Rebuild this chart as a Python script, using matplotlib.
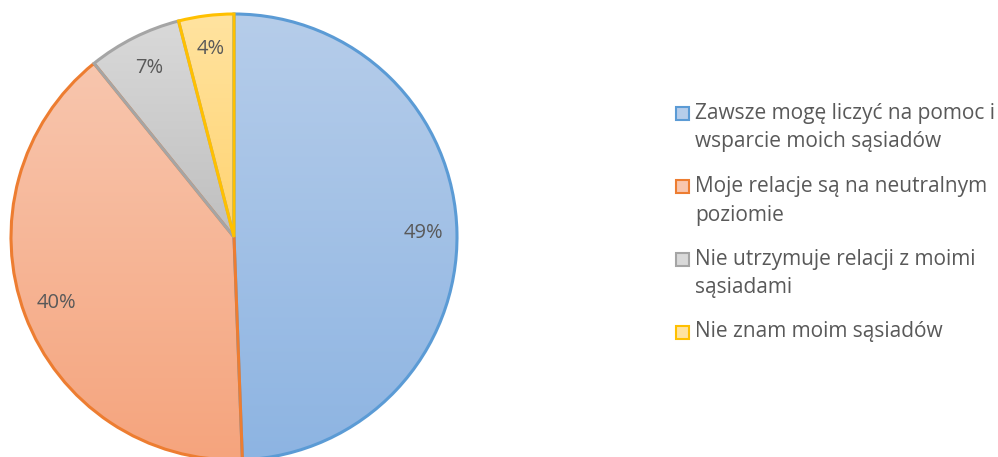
import matplotlib
matplotlib.use("Agg")
from matplotlib import pyplot as plt
from matplotlib.patches import Rectangle
import matplotlib.colors as mcolors
import numpy as np

labels = ["Zawsze mogę liczyć na pomoc i\nwsparcie moich sąsiadów",
          "Moje relacje są na neutralnym\npoziomie",
          "Nie utrzymuje relacji z moimi\nsąsiadami",
          "Nie znam moim sąsiadów"]
values = [49.4, 39.8, 6.8, 4.0]

# (light top, dark bottom, edge)
light = ["#b6cdea", "#f8c6ae", "#d9d9d9", "#ffe3a0"]
dark = ["#8db4e2", "#f5a47d", "#bfbfbf", "#ffd370"]
edges = ["#5b9bd5", "#ed7d31", "#a5a5a5", "#ffc000"]
text_color = "#595959"

plt.rcParams['font.family'] = ['Open Sans', 'DejaVu Sans']

W, H = 998, 457
fig = plt.figure(figsize=(W / 100, H / 100), dpi=100)
ax = fig.add_axes([11 / W, -3 / H, 446 / W, 446 / H])

wedges, texts, autotexts = ax.pie(values, startangle=90, counterclock=False,
                                  autopct=lambda p: "%.0f%%" % p, pctdistance=0.85,
                                  wedgeprops=dict(linewidth=2.2),
                                  textprops=dict(color=text_color, fontsize=14.5))

# gradient fills clipped to each wedge
grad = np.linspace(0, 1, 256).reshape(-1, 1)
for w, lc, dc, ec in zip(wedges, light, dark, edges):
    w.set_facecolor("none")
    w.set_edgecolor(ec)
    w.set_zorder(3)
    cmap = mcolors.LinearSegmentedColormap.from_list("g", [dc, lc])
    bb = w.get_path().get_extents(w.get_transform() + ax.transData.inverted())
    im = ax.imshow(grad, cmap=cmap, origin="lower", aspect="auto",
                   extent=[bb.x0, bb.x1, bb.y0, bb.y1], zorder=1)
    im.set_clip_path(w)
for t in autotexts:
    t.set_zorder(5)
ax.set_aspect("equal")
ax.set_xlim(-1.0, 1.0)
ax.set_ylim(-1.0, 1.0)
ax.axis("off")

# legend, drawn by hand so the marker sits on the first line
y = 113
for lab, lc, ec in zip(labels, light, edges):
    lines = lab.split("\n")
    fig.add_artist(Rectangle((676 / W, 1 - (y + 7) / H), 13 / W, 13 / H,
                             facecolor=lc, edgecolor=ec, linewidth=1.5,
                             transform=fig.transFigure))
    for i, line in enumerate(lines):
        fig.text(695 / W, 1 - (y + 29 * i) / H, line, va="center", ha="left",
                 fontsize=15, color=text_color)
    y += 29 * (len(lines) - 1) + 44

fig.savefig("out.png", dpi=100)
